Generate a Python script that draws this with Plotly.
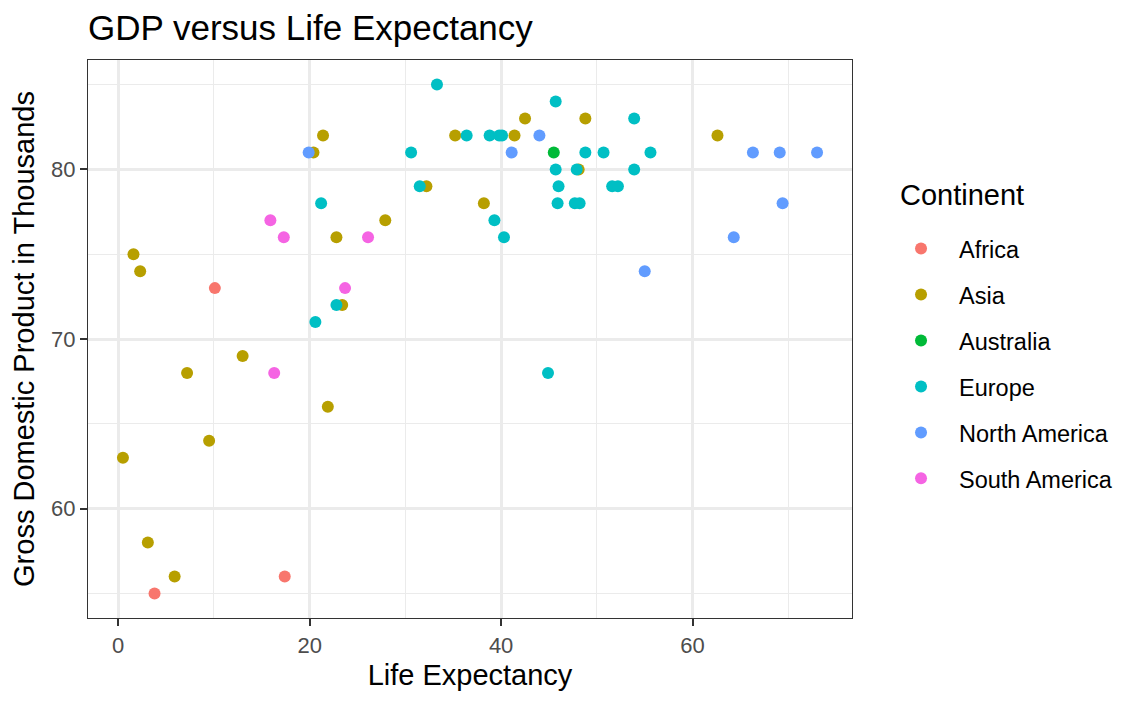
import plotly.graph_objects as go

continents = ["Africa", "Asia", "Australia", "Europe", "North America", "South America"]
colors = ["#F8766D", "#B79F00", "#00BA38", "#00BFC4", "#619CFF", "#F564E3"]

africa_x = [10.1, 17.4, 3.8]
africa_y = [73, 56, 55]

asia_x = [21.4, 20.4, 22.8, 27.9, 1.6, 2.3, 23.4, 42.5, 48.8, 35.2, 41.4, 62.6, 48.1,
          32.2, 38.2, 13.0, 7.2, 21.9, 9.5, 0.5, 3.1, 5.9]
asia_y = [82, 81, 76, 77, 75, 74, 72, 83, 83, 82, 82, 82, 80,
          79, 78, 69, 68, 66, 64, 63, 58, 56]

australia_x = [45.5]
australia_y = [81]

europe_x = [21.2, 22.8, 20.6, 33.3, 45.7, 53.9, 36.4, 38.8, 39.8, 40.1, 30.6, 48.8, 50.7,
            55.6, 45.7, 47.9, 53.9, 31.5, 46.0, 51.6, 52.2, 45.9, 47.7, 48.2, 39.3, 40.3, 44.9]
europe_y = [78, 72, 71, 85, 84, 83, 82, 82, 82, 82, 81, 81, 81,
            81, 80, 80, 80, 79, 79, 79, 79, 78, 78, 78, 77, 76, 68]

namerica_x = [19.9, 44.0, 41.1, 66.3, 69.1, 73.0, 69.4, 64.3, 55.0]
namerica_y = [81, 82, 81, 81, 81, 81, 78, 76, 74]

samerica_x = [15.9, 17.3, 26.1, 23.7, 16.3]
samerica_y = [77, 76, 76, 73, 68]

series_x = [africa_x, asia_x, australia_x, europe_x, namerica_x, samerica_x]
series_y = [africa_y, asia_y, australia_y, europe_y, namerica_y, samerica_y]

x_ticks = [0, 20, 40, 60]
y_ticks = [60, 70, 80]

FONT = "Liberation Sans, Arial, Helvetica, sans-serif"

fig = go.Figure()
for name, col, xs, ys in zip(continents, colors, series_x, series_y):
    fig.add_trace(go.Scatter(
        x=xs, y=ys, mode="markers", name=name, legendgroup=name,
        marker=dict(color=col, size=12, line=dict(width=0)),
    ))

grid_major = "#EBEBEB"
axis_common = dict(
    showline=True, linecolor="#333333", linewidth=1.3, mirror=True,
    showgrid=True, gridcolor=grid_major, gridwidth=2.6,
    zeroline=False, ticks="outside", ticklen=7, tickwidth=2, tickcolor="#333333",
    tickfont=dict(family=FONT, size=22, color="#4D4D4D"),
)

fig.update_xaxes(
    range=[-3.15, 76.65], tickmode="array", tickvals=x_ticks,
    ticktext=[str(v) for v in x_ticks],
    minor=dict(dtick=10, tick0=0, showgrid=True, gridcolor=grid_major, gridwidth=1.3, ticks=""),
    title=dict(text="Life Expectancy", font=dict(family=FONT, size=29, color="black"), standoff=8),
    **axis_common,
)
fig.update_yaxes(
    range=[53.55, 86.45], tickmode="array", tickvals=y_ticks,
    ticktext=[str(v) for v in y_ticks],
    minor=dict(dtick=5, tick0=55, showgrid=True, gridcolor=grid_major, gridwidth=1.3, ticks=""),
    title=dict(text="Gross Domestic Product in Thousands", font=dict(family=FONT, size=29, color="black"), standoff=10),
    **axis_common,
)

# page has an 8px body margin: figure is 1134x697 placed at (8,8)
fig.update_layout(
    width=1134, height=697,
    margin=dict(l=80, r=290, t=52, b=87),
    paper_bgcolor="white", plot_bgcolor="white",
    font=dict(family=FONT, color="black"),
    title=dict(text="GDP versus Life Expectancy", font=dict(family=FONT, size=35, color="black"),
               xref="paper", x=0, xanchor="left", yref="container", y=1 - 20 / 697, yanchor="middle"),
    legend=dict(
        font=dict(family=FONT, size=23.5, color="black"),
        x=1.0406, xanchor="left", y=0.701, yanchor="top",
        tracegroupgap=12.4, itemwidth=66, bgcolor="rgba(0,0,0,0)",
    ),
    annotations=[dict(
        text="Continent", xref="paper", yref="paper", x=1.0602, y=0.758,
        xanchor="left", yanchor="middle", showarrow=False,
        font=dict(family=FONT, size=29, color="black"),
    )],
    showlegend=True,
)

fig.write_html("out.html")
